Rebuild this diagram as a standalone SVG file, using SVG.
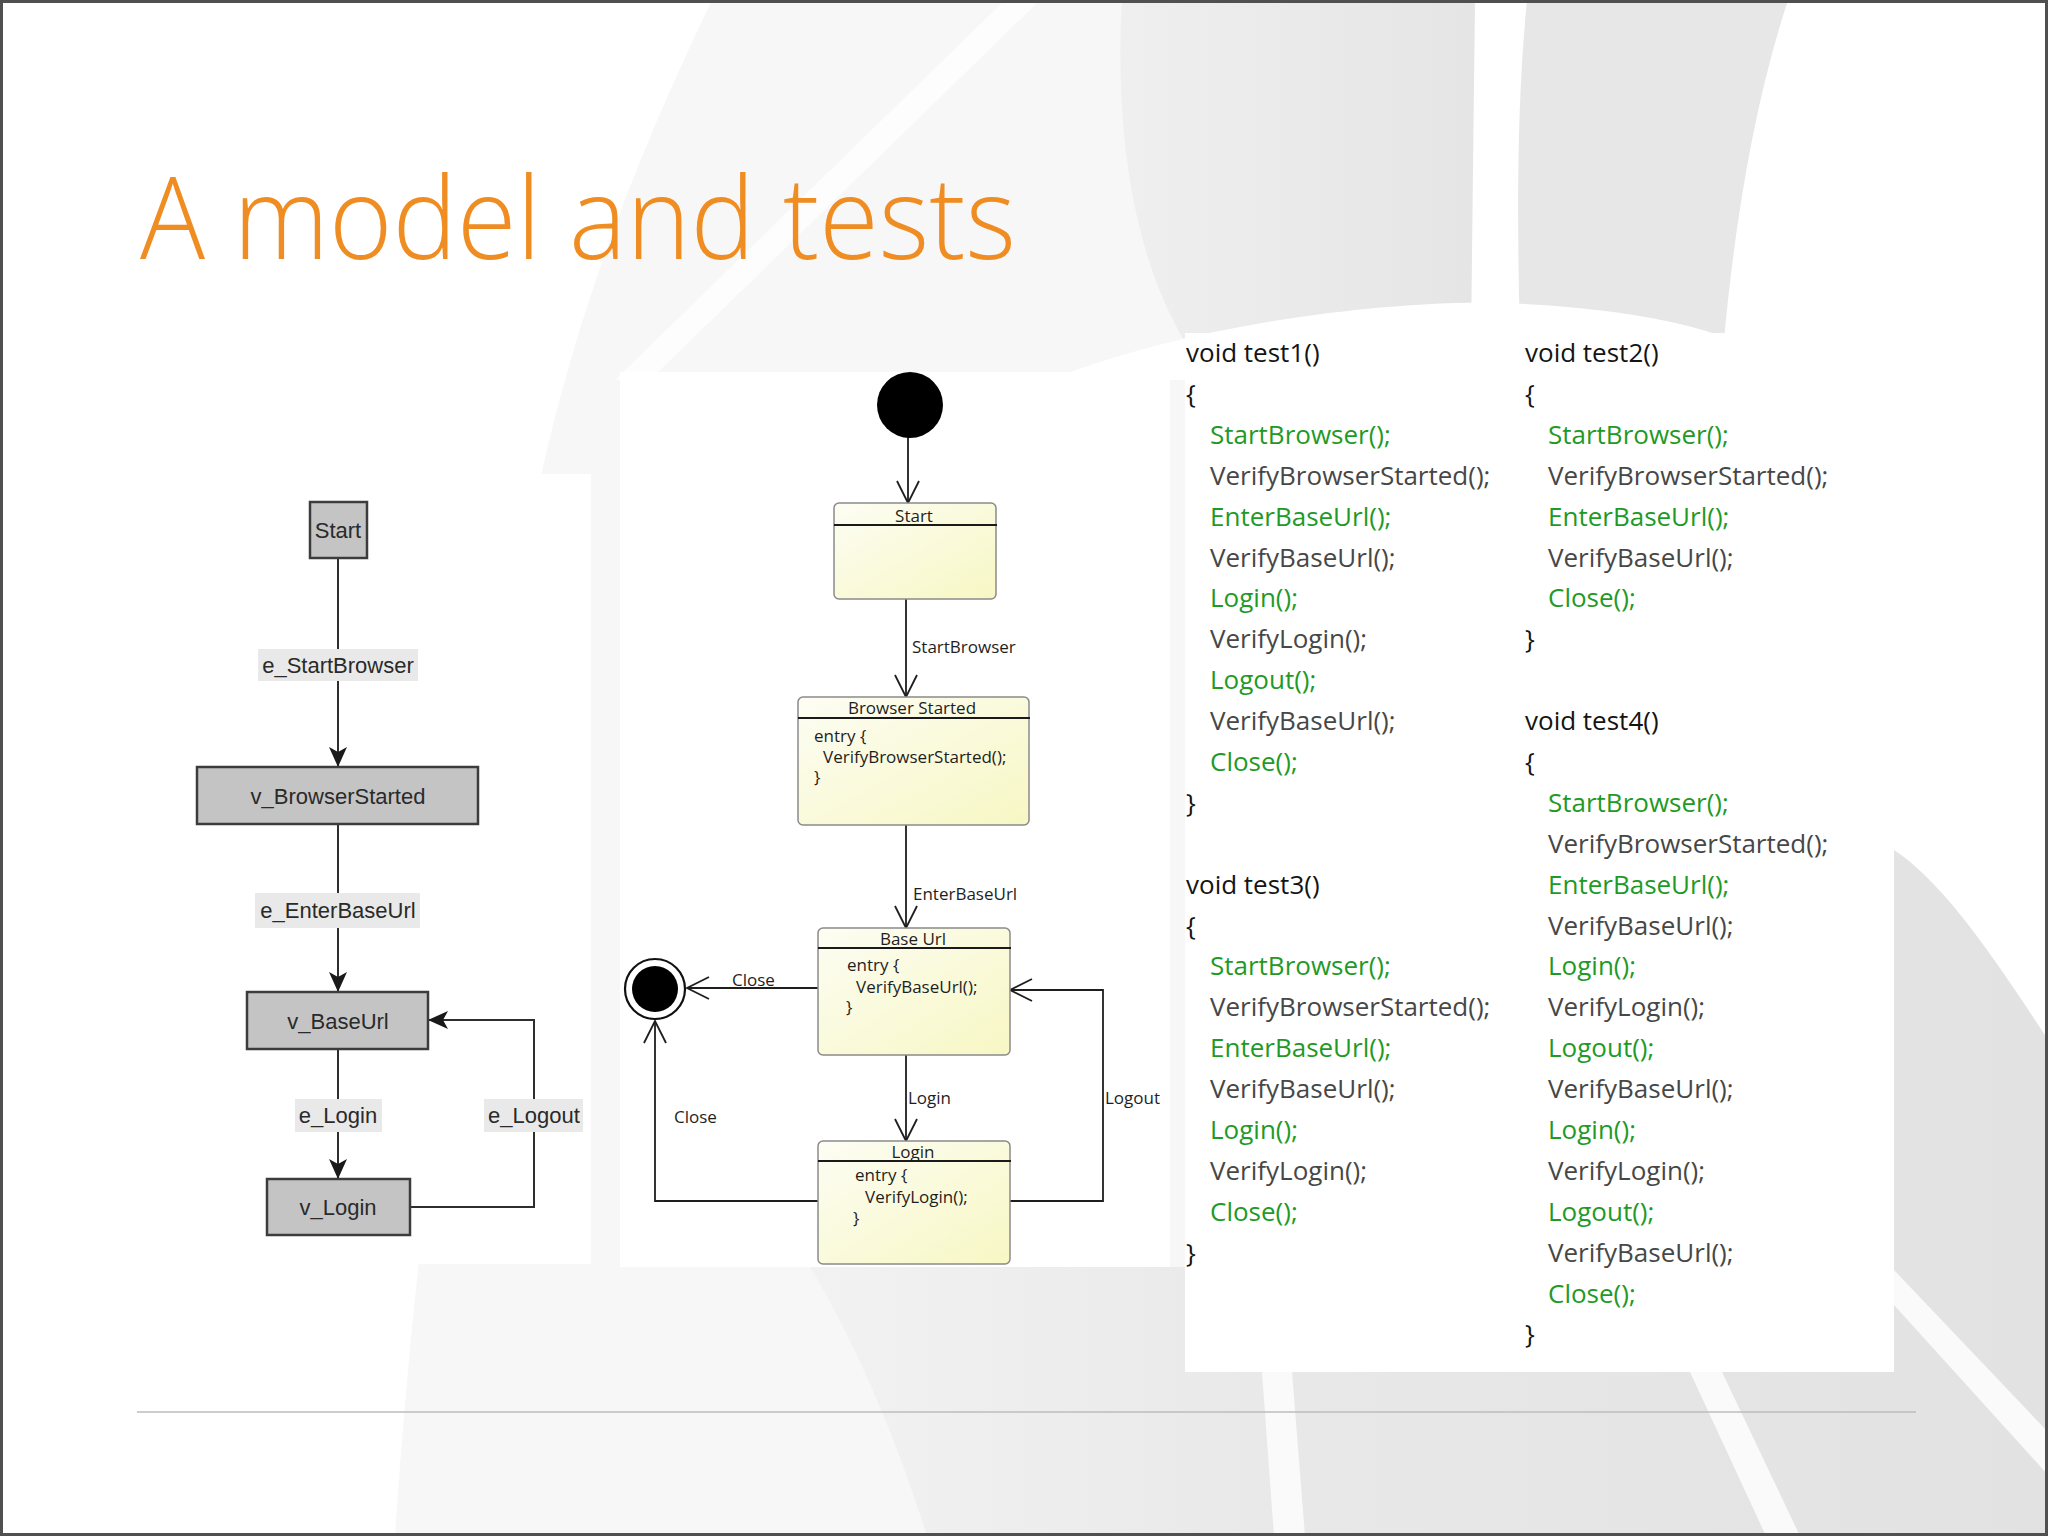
<svg xmlns="http://www.w3.org/2000/svg" width="2048" height="1536" viewBox="0 0 2048 1536">
<defs>
<style>
.lbl{font-family:"Liberation Sans",Arial,sans-serif;font-size:22px;fill:#2a2a2a;text-anchor:middle}
.lnode{fill:#c4c4c4;stroke:#3c3c3c;stroke-width:2.5}
.lbg{fill:#e9e9e9}
.ledge{fill:none;stroke:#2e2e2e;stroke-width:2}
.snode{fill:url(#yel);stroke:#8a8a8a;stroke-width:1.5}
.shdr{stroke:#1a1a1a;stroke-width:2}
.st{font-family:"Open Sans","Noto Sans",sans-serif;font-size:17px;fill:#1e1e1e}
.stc{text-anchor:middle}
.sedge{fill:none;stroke:#1e1e1e;stroke-width:1.8}
.code{font-family:"Open Sans","Noto Sans",sans-serif;font-size:26px}
.k{fill:#141414}
.g{fill:#1f9a26}
.v{fill:#474747}
.panel{fill:#ffffff}
</style>
<linearGradient id="yel" x1="0" y1="0" x2="1" y2="1">
<stop offset="0" stop-color="#fdfdf4"/>
<stop offset="1" stop-color="#f7f7c4"/>
</linearGradient>
<linearGradient id="bandL" x1="0" y1="0" x2="1" y2="0">
<stop offset="0" stop-color="#efefef"/>
<stop offset="1" stop-color="#e5e5e5"/>
</linearGradient>
<linearGradient id="bot" x1="0" y1="0" x2="1" y2="0">
<stop offset="0" stop-color="#f2f2f2"/>
<stop offset="0.4" stop-color="#e8e8e8"/>
<stop offset="1" stop-color="#e2e2e2"/>
</linearGradient>
<marker id="arrFill" viewBox="0 0 20 18" refX="20" refY="9" markerWidth="20" markerHeight="18" markerUnits="userSpaceOnUse" orient="auto">
<path d="M0,0 L20,9 L0,18 L5,9 Z" fill="#1a1a1a"/>
</marker>
<marker id="arrOpen" viewBox="0 0 24 24" refX="23" refY="12" markerWidth="24" markerHeight="24" markerUnits="userSpaceOnUse" orient="auto">
<path d="M1,1 L23,12 L1,23" fill="none" stroke="#1e1e1e" stroke-width="1.8"/>
</marker>
</defs>

<g id="background">
<rect x="0" y="0" width="2048" height="1536" fill="#ffffff"/>
<path d="M712,0 C640,150 580,300 540,480 C480,800 420,1150 395,1536 L1200,1536 L1200,0 Z" fill="#f7f7f7"/>
<path d="M1005,0 L1040,0 L650,380 L615,380 Z" fill="#fdfdfd"/>
<path d="M1122,0 C1115,120 1130,250 1184,340 L1471,340 L1475,0 Z" fill="url(#bandL)"/>
<path d="M1527,0 C1515,120 1518,250 1520,340 L1724,340 C1735,220 1755,100 1788,0 Z" fill="#e7e7e7"/>
<path d="M1050,380 C1200,320 1400,300 1500,303 C1600,306 1700,322 1740,345 L1740,380 Z" fill="#ffffff"/>
<path d="M810,1267 C860,1350 900,1450 927,1536 L2048,1536 L2048,1040 C1990,950 1940,880 1894,850 L1894,1372 L1185,1372 L1185,1267 Z" fill="url(#bot)"/>
<path d="M1262,1372 L1292,1372 L1305,1536 L1274,1536 Z" fill="#fafafa"/>
<path d="M1690,1372 L1722,1372 L1800,1536 L1766,1536 Z" fill="#fafafa"/>
<path d="M1894,1270 L1894,1305 L2048,1475 L2048,1432 Z" fill="#fafafa"/>
<rect class="panel" x="173" y="474" width="418" height="790"/>
<rect class="panel" x="620" y="372" width="550" height="895"/>
<rect class="panel" x="1185" y="333" width="709" height="1039"/>
<line x1="137" y1="1412" x2="1916" y2="1412" stroke="#bdbdbd" stroke-width="1.5"/>
<rect x="1.5" y="1.5" width="2045" height="1533" fill="none" stroke="#505050" stroke-width="3"/>
</g>

<text id="title" x="140" y="259" font-family="'Open Sans','Noto Sans',sans-serif" font-weight="300" font-size="114" fill="#ef8d22" textLength="876" lengthAdjust="spacingAndGlyphs">A model and tests</text>

<g id="connectors">
<path class="ledge" d="M338,558 V767" marker-end="url(#arrFill)"/>
<path class="ledge" d="M338,824 V992" marker-end="url(#arrFill)"/>
<path class="ledge" d="M338,1049 V1179" marker-end="url(#arrFill)"/>
<path class="ledge" d="M410,1207 H534 V1020 H428" marker-end="url(#arrFill)"/>
<rect class="lbg" x="258" y="649" width="160" height="32"/>
<text class="lbl" x="338" y="673">e_StartBrowser</text>
<rect class="lbg" x="255" y="893" width="165" height="35"/>
<text class="lbl" x="338" y="918">e_EnterBaseUrl</text>
<rect class="lbg" x="295" y="1099" width="87" height="33"/>
<text class="lbl" x="338" y="1123">e_Login</text>
<rect class="lbg" x="484" y="1099" width="99" height="33"/>
<text class="lbl" x="534" y="1123">e_Logout</text>

<path class="sedge" d="M908,437 V503" marker-end="url(#arrOpen)"/>
<path class="sedge" d="M906,599 V697" marker-end="url(#arrOpen)"/>
<path class="sedge" d="M906,825 V928" marker-end="url(#arrOpen)"/>
<path class="sedge" d="M906,1055 V1141" marker-end="url(#arrOpen)"/>
<path class="sedge" d="M818,988 H687" marker-end="url(#arrOpen)"/>
<path class="sedge" d="M818,1201 H655 V1021" marker-end="url(#arrOpen)"/>
<path class="sedge" d="M1010,1201 H1103 V990 H1010" marker-end="url(#arrOpen)"/>
<text class="st" x="912" y="653">StartBrowser</text>
<text class="st" x="913" y="900">EnterBaseUrl</text>
<text class="st" x="732" y="986">Close</text>
<text class="st" x="908" y="1104">Login</text>
<text class="st" x="1105" y="1104">Logout</text>
<text class="st" x="674" y="1123">Close</text>
</g>

<g id="node-start">
<rect class="lnode" x="310" y="502" width="57" height="56"/>
<text class="lbl" x="338" y="538">Start</text>
</g>
<g id="node-v_BrowserStarted">
<rect class="lnode" x="197" y="767" width="281" height="57"/>
<text class="lbl" x="338" y="804">v_BrowserStarted</text>
</g>
<g id="node-v_BaseUrl">
<rect class="lnode" x="247" y="992" width="181" height="57"/>
<text class="lbl" x="338" y="1029">v_BaseUrl</text>
</g>
<g id="node-v_Login">
<rect class="lnode" x="267" y="1179" width="143" height="56"/>
<text class="lbl" x="338" y="1215">v_Login</text>
</g>

<g id="state-initial">
<circle cx="910" cy="405" r="33" fill="#000"/>
</g>
<g id="state-final">
<circle cx="655" cy="989" r="30" fill="#fff" stroke="#111" stroke-width="2.2"/>
<circle cx="655" cy="989" r="23" fill="#000"/>
</g>
<g id="state-Start">
<rect class="snode" x="834" y="503" width="162" height="96" rx="5"/>
<line class="shdr" x1="834" y1="525" x2="997" y2="525"/>
<text class="st stc" x="914" y="522">Start</text>
</g>
<g id="state-BrowserStarted">
<rect class="snode" x="798" y="697" width="231" height="128" rx="5"/>
<line class="shdr" x1="798" y1="718" x2="1030" y2="718"/>
<text class="st stc" x="912" y="714">Browser Started</text>
<text class="st" x="814" y="742">entry {</text>
<text class="st" x="823" y="763">VerifyBrowserStarted();</text>
<text class="st" x="814" y="783">}</text>
</g>
<g id="state-BaseUrl">
<rect class="snode" x="818" y="928" width="192" height="127" rx="5"/>
<line class="shdr" x1="818" y1="948" x2="1011" y2="948"/>
<text class="st stc" x="913" y="945">Base Url</text>
<text class="st" x="847" y="971">entry {</text>
<text class="st" x="856" y="993">VerifyBaseUrl();</text>
<text class="st" x="846" y="1013">}</text>
</g>
<g id="state-Login">
<rect class="snode" x="818" y="1141" width="192" height="123" rx="5"/>
<line class="shdr" x1="818" y1="1161" x2="1011" y2="1161"/>
<text class="st stc" x="913" y="1158">Login</text>
<text class="st" x="855" y="1181">entry {</text>
<text class="st" x="865" y="1203">VerifyLogin();</text>
<text class="st" x="853" y="1224">}</text>
</g>

<g id="code" class="code">
<text class="k" x="1186" y="362">void test1()</text>
<text class="k" x="1186" y="403">{</text>
<text class="g" x="1210" y="444">StartBrowser();</text>
<text class="v" x="1210" y="485">VerifyBrowserStarted();</text>
<text class="g" x="1210" y="526">EnterBaseUrl();</text>
<text class="v" x="1210" y="567">VerifyBaseUrl();</text>
<text class="g" x="1210" y="607">Login();</text>
<text class="v" x="1210" y="648">VerifyLogin();</text>
<text class="g" x="1210" y="689">Logout();</text>
<text class="v" x="1210" y="730">VerifyBaseUrl();</text>
<text class="g" x="1210" y="771">Close();</text>
<text class="k" x="1186" y="812">}</text>

<text class="k" x="1186" y="894">void test3()</text>
<text class="k" x="1186" y="935">{</text>
<text class="g" x="1210" y="975">StartBrowser();</text>
<text class="v" x="1210" y="1016">VerifyBrowserStarted();</text>
<text class="g" x="1210" y="1057">EnterBaseUrl();</text>
<text class="v" x="1210" y="1098">VerifyBaseUrl();</text>
<text class="g" x="1210" y="1139">Login();</text>
<text class="v" x="1210" y="1180">VerifyLogin();</text>
<text class="g" x="1210" y="1221">Close();</text>
<text class="k" x="1186" y="1262">}</text>

<text class="k" x="1525" y="362">void test2()</text>
<text class="k" x="1525" y="403">{</text>
<text class="g" x="1548" y="444">StartBrowser();</text>
<text class="v" x="1548" y="485">VerifyBrowserStarted();</text>
<text class="g" x="1548" y="526">EnterBaseUrl();</text>
<text class="v" x="1548" y="567">VerifyBaseUrl();</text>
<text class="g" x="1548" y="607">Close();</text>
<text class="k" x="1525" y="648">}</text>

<text class="k" x="1525" y="730">void test4()</text>
<text class="k" x="1525" y="771">{</text>
<text class="g" x="1548" y="812">StartBrowser();</text>
<text class="v" x="1548" y="853">VerifyBrowserStarted();</text>
<text class="g" x="1548" y="894">EnterBaseUrl();</text>
<text class="v" x="1548" y="935">VerifyBaseUrl();</text>
<text class="g" x="1548" y="975">Login();</text>
<text class="v" x="1548" y="1016">VerifyLogin();</text>
<text class="g" x="1548" y="1057">Logout();</text>
<text class="v" x="1548" y="1098">VerifyBaseUrl();</text>
<text class="g" x="1548" y="1139">Login();</text>
<text class="v" x="1548" y="1180">VerifyLogin();</text>
<text class="g" x="1548" y="1221">Logout();</text>
<text class="v" x="1548" y="1262">VerifyBaseUrl();</text>
<text class="g" x="1548" y="1303">Close();</text>
<text class="k" x="1525" y="1343">}</text>
</g>
</svg>
